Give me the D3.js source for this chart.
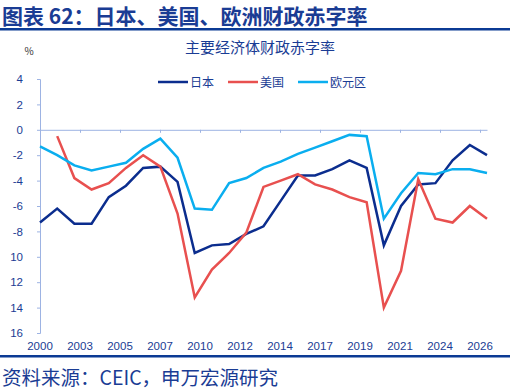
<!DOCTYPE html>
<html>
<head>
<meta charset="utf-8">
<script src="https://cdn.jsdelivr.net/npm/d3@7"></script>
<style>
  body { margin: 0; background: #fff; }
  svg { display: block; font-family: "Noto Sans CJK SC", "Liberation Sans", sans-serif; }
</style>
</head>
<body>
<svg id="chart" width="514" height="390"></svg>
<script>
const years = d3.range(2000, 2027);
// fiscal balance, % of GDP (null = no data)
const japan = [-7.3, -6.2, -7.4, -7.4, -5.3, -4.4, -3.0, -2.9, -4.1, -9.7, -9.1, -9.0, -8.2, -7.6, -5.6,
  -3.6, -3.6, -3.1, -2.4, -3.0, -9.1, -6.0, -4.3, -4.2, -2.4, -1.2, -2.0];
const usa = [null, -0.5, -3.8, -4.7, -4.2, -3.0, -2.0, -2.9, -6.6, -13.2, -11.0, -9.7, -8.1, -4.5, -4.0,
  -3.5, -4.3, -4.7, -5.3, -5.7, -14.0, -11.1, -3.9, -7.0, -7.3, -6.0, -7.0];
const euro = [-1.3, -2.0, -2.8, -3.2, -2.9, -2.6, -1.5, -0.7, -2.2, -6.2, -6.3, -4.2, -3.8, -3.0, -2.5,
  -1.9, -1.4, -0.9, -0.4, -0.5, -7.0, -5.0, -3.4, -3.5, -3.1, -3.1, -3.4];
const yTicks = [4, 2, 0, -2, -4, -6, -8, -10, -12, -14, -16];
const xTickLabels = ["2000", "2003", "2005", "2007", "2010", "2012", "2014", "2017", "2019", "2021", "2024", "2026"];

const series = [
  { name: "日本", values: japan, color: "#0b2d8e" },
  { name: "美国", values: usa, color: "#e8504f" },
  { name: "欧元区", values: euro, color: "#0aaeef" },
];

const svg = d3.select("#chart");
const navy = "#1a3c94";
const axisColor = "#9db3e3";

const plotLeft = 40, plotRight = 487, plotTop = 79, plotBottom = 333;
const x = d3.scaleLinear().domain([2000, 2026]).range([plotLeft, plotRight]);
const y = d3.scaleLinear().domain([4, -16]).range([plotTop, plotBottom]);

// header
svg.append("text").attr("x", 2).attr("y", 24)
  .attr("font-size", 21).attr("font-weight", "bold").attr("fill", navy)
  .text("图表 62：日本、美国、欧洲财政赤字率");
svg.append("rect").attr("x", 0).attr("y", 28).attr("width", 510).attr("height", 2.5).attr("fill", "#0b3a94");

svg.append("text").attr("x", 260).attr("y", 53).attr("text-anchor", "middle")
  .attr("font-size", 15).attr("fill", navy).text("主要经济体财政赤字率");
svg.append("text").attr("x", 29).attr("y", 55).attr("text-anchor", "middle")
  .attr("font-size", 10).attr("fill", "#333").text("%");

// legend
const legendX = [158, 228, 298];
const legend = svg.append("g").selectAll("g").data(series).join("g")
  .attr("transform", (d, i) => `translate(${legendX[i]},82)`);
legend.append("line").attr("x1", 0).attr("x2", 30)
  .attr("stroke", d => d.color).attr("stroke-width", 2.5);
legend.append("text").attr("x", 32).attr("y", 4.5)
  .attr("font-size", 12).attr("fill", navy).text(d => d.name);

// y axis
const yAxis = svg.append("g").attr("transform", `translate(${plotLeft},0)`)
  .call(d3.axisLeft(y).tickValues(yTicks).tickSize(3).tickPadding(14)
    .tickFormat(d => Math.abs(d) >= 10 ? String(Math.abs(d)) : String(d)));
yAxis.select(".domain").attr("stroke", axisColor);
yAxis.selectAll(".tick line").attr("stroke", axisColor);
yAxis.selectAll("text").attr("font-family", "Liberation Sans, Arial, sans-serif")
  .attr("font-size", 11.5).attr("fill", navy);

// x axis on zero line, labels at the bottom
const tickStep = 40 / (x(2001) - x(2000));
const xTickVals = xTickLabels.map((d, i) => 2000 + i * tickStep);
const xAxis = svg.append("g").attr("transform", `translate(0,${y(0)})`)
  .call(d3.axisBottom(x).tickValues(xTickVals).tickSize(3).tickSizeOuter(0).tickFormat(""));
xAxis.select(".domain").attr("stroke", axisColor);
xAxis.selectAll(".tick line").attr("stroke", axisColor);

svg.append("g").selectAll("text").data(xTickVals).join("text")
  .attr("x", d => x(d)).attr("y", 350).attr("text-anchor", "middle")
  .attr("font-family", "Liberation Sans, Arial, sans-serif")
  .attr("font-size", 11.5).attr("fill", navy)
  .text((d, i) => xTickLabels[i]);

// lines
const line = d3.line()
  .defined(d => d[1] != null)
  .x(d => x(d[0])).y(d => y(d[1]));
svg.append("g").selectAll("path").data(series).join("path")
  .attr("fill", "none").attr("stroke", d => d.color).attr("stroke-width", 2.5)
  .attr("stroke-linejoin", "miter")
  .attr("d", d => line(years.map((yr, i) => [yr, d.values[i]])));

// footer
svg.append("rect").attr("x", 0).attr("y", 355).attr("width", 510).attr("height", 2.5).attr("fill", "#0b3a94");
svg.append("text").attr("x", 2).attr("y", 385)
  .attr("font-size", 19.5).attr("fill", navy)
  .text("资料来源：CEIC，申万宏源研究");
</script>
</body>
</html>
